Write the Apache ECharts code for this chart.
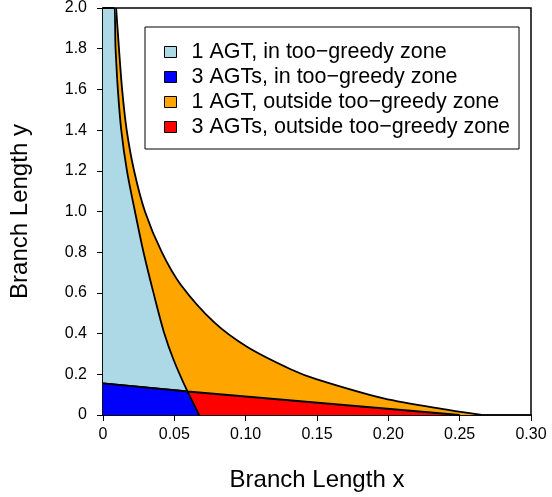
<!DOCTYPE html>
<html>
<head>
<meta charset="utf-8">
<script src="https://cdn.jsdelivr.net/npm/echarts@6/dist/echarts.min.js"></script>
<style>
html,body{margin:0;padding:0;background:#fff;}
#chart{width:552px;height:497px;}
</style>
</head>
<body>
<div id="chart"></div>
<script>
// Outer boundary (orange region upper edge)
const outerX = [0.0092, 0.0112, 0.0134, 0.0166, 0.0218, 0.0294, 0.0412, 0.0545, 0.0778, 0.1012, 0.1315, 0.150, 0.1967, 0.243, 0.2655];
const outerY = [2.0, 1.8, 1.6, 1.4, 1.2, 1.0, 0.8, 0.64, 0.456, 0.334, 0.225, 0.175, 0.082, 0.024, 0];
// Inner boundary (too-greedy zone edge)
const innerX = [0.0076, 0.0088, 0.0104, 0.0128, 0.0168, 0.0224, 0.0284, 0.0354, 0.0430, 0.0496, 0.0592, 0.0674];
const innerY = [2.0, 1.8, 1.6, 1.4, 1.2, 1.0, 0.8, 0.6, 0.4, 0.269, 0.1155, 0];
// Lower straight boundary (1 AGT vs 3 AGTs)
const lowerX = [0, 0.0592, 0.25];
const lowerY = [0.155, 0.1155, 0];

const seriesNames = ['1 AGT, in too\u2212greedy zone', '3 AGTs, in too\u2212greedy zone', '1 AGT, outside too\u2212greedy zone', '3 AGTs, outside too\u2212greedy zone'];
const seriesColors = ['#ADD8E6', '#0000FF', '#FFA500', '#FF0000'];

const pairs = (xs, ys) => xs.map((x, i) => [x, ys[i]]);

// light blue: left of inner curve
const lightBlueData = [[0, 2.0]].concat(pairs(innerX, innerY));
// blue: below lower line, left of inner curve
const blueData = [[lowerX[0], lowerY[0]], [lowerX[1], lowerY[1]], [innerX[innerX.length - 1], innerY[innerY.length - 1]]];
// orange: under outer curve
const orangeData = pairs(outerX, outerY);
// red: under lower line
const redData = pairs(lowerX, lowerY);

const chart = echarts.init(document.getElementById('chart'), null, {renderer: 'canvas'});
const FONT = 'Liberation Sans, Arial, sans-serif';
const lineStyle = {color: '#000', width: 1.8};

function areaSeries(name, data, color, z, smooth) {
  return {
    name: name, type: 'line', data: data, z: z,
    symbol: 'none', showSymbol: false,
    smooth: smooth ? 0.3 : false,
    itemStyle: {color: color},
    lineStyle: lineStyle,
    areaStyle: {color: color, opacity: 1, origin: 'start'},
    animation: false
  };
}

chart.setOption({
  animation: false,
  grid: {left: 102, right: 21, top: 6, bottom: 82, show: true, borderColor: '#000', borderWidth: 1.5, backgroundColor: 'transparent'},
  xAxis: {
    type: 'value', min: 0, max: 0.30, interval: 0.05,
    name: 'Branch Length x', nameLocation: 'middle', nameGap: 53,
    nameTextStyle: {fontFamily: FONT, fontSize: 24, color: '#000'},
    axisLine: {show: true, onZero: false, lineStyle: {color: '#000', width: 1.5}},
    axisTick: {show: true, inside: false, length: 6, lineStyle: {color: '#000'}},
    axisLabel: {fontFamily: FONT, fontSize: 16, color: '#000', margin: 12,
      formatter: v => v === 0 ? '0' : v.toFixed(2)},
    splitLine: {show: false}
  },
  yAxis: {
    type: 'value', min: 0, max: 2.0, interval: 0.2,
    name: 'Branch Length y', nameLocation: 'middle', nameGap: 71, nameRotate: 90,
    nameTextStyle: {fontFamily: FONT, fontSize: 24, color: '#000'},
    axisLine: {show: true, onZero: false, lineStyle: {color: '#000', width: 1.5}},
    axisTick: {show: true, inside: false, length: 6, lineStyle: {color: '#000'}},
    axisLabel: {fontFamily: FONT, fontSize: 16, color: '#000', margin: 16,
      formatter: v => v === 0 ? '0' : v.toFixed(1)},
    splitLine: {show: false}
  },
  legend: {
    orient: 'vertical', left: 145, top: 27,
    backgroundColor: '#fff', borderColor: '#000', borderWidth: 1,
    padding: [13, 9, 10, 19], itemGap: 1,
    itemWidth: 12, itemHeight: 11, icon: 'rect',
    textStyle: {fontFamily: FONT, fontSize: 21.5, color: '#000', lineHeight: 24, padding: [0, 0, 0, 10]},
    data: seriesNames.map((n, i) => ({name: n, icon: 'rect', itemStyle: {color: seriesColors[i], borderColor: '#000', borderWidth: 1}}))
  },
  series: [
    areaSeries(seriesNames[2], orangeData, seriesColors[2], 1, true),
    areaSeries(seriesNames[0], lightBlueData, seriesColors[0], 2, true),
    areaSeries(seriesNames[3], redData, seriesColors[3], 3, false),
    areaSeries(seriesNames[1], blueData, seriesColors[1], 4, false)
  ]
});
</script>
</body>
</html>
